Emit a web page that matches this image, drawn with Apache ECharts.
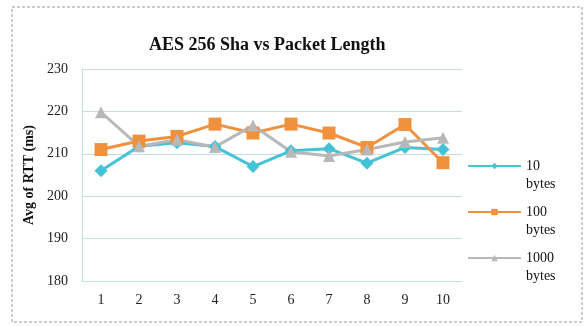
<!DOCTYPE html>
<html><head><meta charset="utf-8">
<script src="https://cdn.jsdelivr.net/npm/echarts@6/dist/echarts.min.js"></script>
<style>html,body{margin:0;padding:0;background:#fff}#c{width:586px;height:326px}</style>
</head><body><div id="c"></div>
<script>
var categories = ['1','2','3','4','5','6','7','8','9','10'];
var bytes10 = [206, 211.8, 212.6, 211.7, 207, 210.7, 211.2, 207.8, 211.5, 211];
var bytes100 = [211, 213, 214.1, 217, 214.9, 217, 214.9, 211.5, 216.9, 207.9];
var bytes1000 = [219.8, 211.8, 213.3, 211.6, 216.7, 210.5, 209.5, 211, 212.8, 213.8];
var seriesNames = ['10 bytes', '100 bytes', '1000 bytes'];
var yTicks = {min: 180, max: 230, interval: 10};

var serif = '"Liberation Serif","DejaVu Serif",serif';
var chart = echarts.init(document.getElementById('c'));
function mk(name, data, color, symbol, size) {
  return {
    name: name, type: 'line', data: data, symbol: symbol, symbolSize: size,
    lineStyle: {color: color, width: 3}, itemStyle: {color: color},
    emphasis: {disabled: true}, animation: false
  };
}
chart.setOption({
  animation: false,
  title: {
    text: 'AES 256 Sha vs Packet Length', left: 144, top: 31,
    textStyle: {fontFamily: serif, fontWeight: 'bold', fontSize: 18, color: '#111'}
  },
  graphic: [{
    type: 'rect', shape: {x: 12, y: 7, width: 570, height: 315},
    style: {fill: 'none', stroke: '#9a9a9a', lineWidth: 1, lineDash: [3, 2]}, silent: true
  }],
  legend: {
    orient: 'vertical', left: 462, top: 134, itemWidth: 53, itemHeight: 8, itemGap: -8,
    data: seriesNames,
    formatter: function (n) { return ' \n' + n.replace(' ', '\n'); },
    textStyle: {fontFamily: serif, fontSize: 14, color: '#111', lineHeight: 18}
  },
  grid: {left: 82, right: 124, top: 69, bottom: 45},
  xAxis: {
    type: 'category', data: categories, boundaryGap: true,
    axisLine: {lineStyle: {color: '#c5dde0'}}, axisTick: {show: false},
    axisLabel: {fontFamily: serif, fontSize: 14, color: '#222', margin: 12}
  },
  yAxis: {
    type: 'value', min: yTicks.min, max: yTicks.max, interval: yTicks.interval,
    name: 'Avg of RTT (ms)', nameLocation: 'middle', nameGap: 44,
    nameTextStyle: {fontFamily: serif, fontWeight: 'bold', fontSize: 14, color: '#111'},
    axisLine: {show: true, lineStyle: {color: '#c5dde0'}}, axisTick: {show: false},
    splitLine: {lineStyle: {color: '#c5dde0'}},
    axisLabel: {fontFamily: serif, fontSize: 14, color: '#222', margin: 14}
  },
  series: [
    mk(seriesNames[0], bytes10, '#45c3d6', 'diamond', 13),
    mk(seriesNames[1], bytes100, '#f0913e', 'rect', 13),
    mk(seriesNames[2], bytes1000, '#b8b8b8', 'triangle', 12)
  ]
});
</script></body></html>
